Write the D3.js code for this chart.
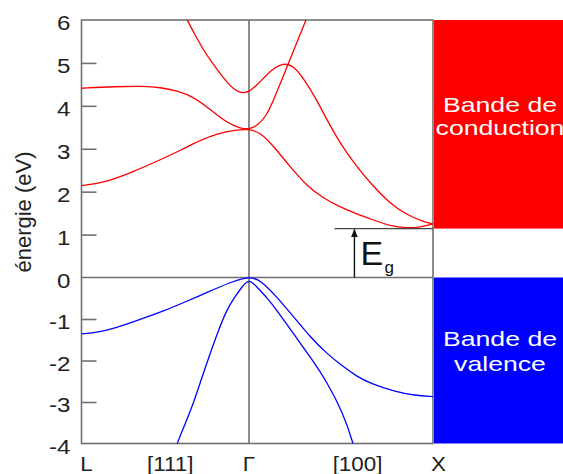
<!DOCTYPE html>
<html><head><meta charset="utf-8">
<script src="https://cdn.jsdelivr.net/npm/d3@7/dist/d3.min.js"></script>
<style>body{margin:0;background:#fff}svg{display:block}text{font-family:"Liberation Sans",Arial,sans-serif}</style>
</head><body>
<script>
// k: -1 = L, 0 = Γ, 1 = X ; E in eV
const yTicks = [-4,-3,-2,-1,0,1,2,3,4,5,6];
const kLabels = [{k:-1,t:"L"},{k:-0.47,t:"[111]"},{k:0,t:"Γ"},{k:0.59,t:"[100]"},{k:1.03,t:"X"}];
const Eg = 1.14;
const cond1 = [[-1,2.14],[-0.87,2.2],[-0.7,2.45],[-0.53,2.74],[-0.4,2.98],[-0.29,3.2],[-0.19,3.35],[-0.08,3.44],[0,3.46],[0.06,3.38],[0.132,3.07],[0.223,2.58],[0.313,2.14],[0.4,1.86],[0.495,1.64],[0.586,1.48],[0.676,1.34],[0.766,1.2],[0.857,1.15],[0.93,1.17],[1,1.25]];
const cond2 = [[-1,4.41],[-0.8,4.45],[-0.63,4.46],[-0.53,4.43],[-0.43,4.35],[-0.333,4.21],[-0.232,3.92],[-0.131,3.6],[-0.054,3.48],[0,3.45],[0.05,3.55],[0.096,3.78],[0.132,4.12],[0.178,4.6],[0.223,5.08],[0.267,5.55],[0.31,6.0],[0.33,6.25]];
const cond3 = [[-0.39,6.2],[-0.37,6.0],[-0.32,5.64],[-0.272,5.3],[-0.22,5.0],[-0.173,4.76],[-0.133,4.55],[-0.065,4.29],[0,4.3],[0.06,4.56],[0.125,4.85],[0.187,5.0],[0.24,4.94],[0.3,4.62],[0.368,4.14],[0.43,3.62],[0.495,3.13],[0.585,2.58],[0.676,2.12],[0.766,1.73],[0.857,1.46],[0.947,1.30],[1,1.25]];
const val1 = [[-1,-1.36],[-0.9,-1.32],[-0.8,-1.22],[-0.7,-1.08],[-0.6,-0.94],[-0.5,-0.79],[-0.4,-0.62],[-0.3,-0.45],[-0.2,-0.27],[-0.1,-0.1],[0,0.02],[0.06,-0.05],[0.15,-0.46],[0.241,-0.94],[0.332,-1.43],[0.422,-1.83],[0.512,-2.15],[0.585,-2.38],[0.658,-2.55],[0.8,-2.76],[0.9,-2.84],[1,-2.87]];
const val2 = [[-0.45,-4.3],[-0.43,-4.0],[-0.38,-3.52],[-0.332,-3.03],[-0.282,-2.42],[-0.232,-1.83],[-0.183,-1.28],[-0.133,-0.78],[-0.09,-0.5],[-0.045,-0.24],[0,-0.02],[0.045,-0.24],[0.1,-0.5],[0.15,-0.78],[0.241,-1.35],[0.332,-1.91],[0.422,-2.5],[0.512,-3.27],[0.567,-4.0],[0.58,-4.3]];
const condLabel = ["Bande de","conduction"];
const valLabel = ["Bande de","valence"];

const W=563,H=474;
const svg=d3.select("body").append("svg").attr("width",W).attr("height",H);
const x=d3.scaleLinear().domain([-1,0,1]).range([81.5,249,433]);
const y=d3.scaleLinear().domain([-4,0,6]).range([443.5,277.5,20]);
const gray="#707070";

// bands on right
svg.append("rect").attr("x",434).attr("y",y(6)).attr("width",W-434).attr("height",y(Eg)-y(6)).attr("fill","#ff0000");
svg.append("rect").attr("x",434).attr("y",y(0)).attr("width",W-434).attr("height",y(-4)-y(0)).attr("fill","#0000ff");
const cx=500;
condLabel.forEach((t,i)=>svg.append("text").attr("transform",`translate(${cx},${112+i*23}) scale(1.3,1)`).attr("text-anchor","middle").attr("font-size",20.5).attr("fill","#fff").text(t));
valLabel.forEach((t,i)=>svg.append("text").attr("transform",`translate(${cx},${346+i*25}) scale(1.3,1)`).attr("text-anchor","middle").attr("font-size",20.5).attr("fill","#fff").text(t));

// clip
svg.append("clipPath").attr("id","c").append("rect").attr("x",x(-1)).attr("y",y(6)).attr("width",x(1)-x(-1)).attr("height",y(-4)-y(6));

// axes lines
const g=svg.append("g");
g.append("line").attr("x1",x(0)).attr("x2",x(0)).attr("y1",y(6)).attr("y2",y(-4)).attr("stroke",gray).attr("stroke-width",1.6);
g.append("line").attr("x1",x(-1)).attr("x2",x(1)).attr("y1",y(0)).attr("y2",y(0)).attr("stroke",gray).attr("stroke-width",1.6);
g.append("rect").attr("x",x(-1)).attr("y",y(6)).attr("width",x(1)-x(-1)).attr("height",y(-4)-y(6)).attr("fill","none").attr("stroke",gray).attr("stroke-width",1.6);
const ax=d3.axisLeft(y).tickValues(yTicks).tickSize(-15).tickPadding(26).tickFormat(d=>String(d));
const axg=svg.append("g").attr("transform",`translate(${x(-1)},0)`).call(ax);
axg.select(".domain").remove();
axg.selectAll(".tick line").attr("stroke",gray).attr("stroke-width",1.6).filter(d=>d===6||d===-4||d===0).remove();
axg.selectAll(".tick text").attr("font-size",21).attr("fill","#222").attr("font-family","Liberation Sans, Arial, sans-serif")
  .attr("text-anchor","end").attr("x",0).attr("dy","0.35em")
  .attr("transform",d=>`translate(-11,2.5) scale(1.15,1)`);

// y label
svg.append("text").attr("transform","translate(31,212) rotate(-90)").attr("text-anchor","middle").attr("font-size",22).attr("fill","#222").text("énergie (eV)");

// x labels
kLabels.forEach(d=>svg.append("text").attr("transform",`translate(${x(d.k)+(d.k===-1?5:0)},471) scale(1.15,1)`).attr("text-anchor","middle").attr("font-size",19.5).attr("fill","#222").text(d.t));

// curves
const line=d3.line().x(d=>x(d[0])).y(d=>y(d[1])).curve(d3.curveBasis);
const cg=svg.append("g").attr("clip-path","url(#c)");
[cond1,cond2,cond3].forEach(b=>cg.append("path").attr("d",line(b)).attr("fill","none").attr("stroke","#ff0000").attr("stroke-width",1.3));
[val1,val2].forEach(b=>cg.append("path").attr("d",line(b)).attr("fill","none").attr("stroke","#0000ff").attr("stroke-width",1.3));

// Eg marker
svg.append("line").attr("x1",x(0.465)).attr("x2",x(1)).attr("y1",y(Eg)).attr("y2",y(Eg)).attr("stroke","#444").attr("stroke-width",1.4);
svg.append("defs").append("marker").attr("id","ah").attr("viewBox","0 0 10 10").attr("refX",9).attr("refY",5).attr("markerWidth",6).attr("markerHeight",7).attr("orient","auto")
  .append("path").attr("d","M0,1 L10,5 L0,9 Z").attr("fill","#111");
const ak=0.573;
svg.append("line").attr("x1",x(ak)).attr("x2",x(ak)).attr("y1",y(0)).attr("y2",y(Eg)+1).attr("stroke","#111").attr("stroke-width",1.4).attr("marker-end","url(#ah)");
svg.append("text").attr("x",x(ak)+6).attr("y",265).attr("font-size",34).attr("fill","#111").text("E");
svg.append("text").attr("x",x(ak)+30).attr("y",273).attr("font-size",17).attr("fill","#111").text("g");
</script>
</body></html>
